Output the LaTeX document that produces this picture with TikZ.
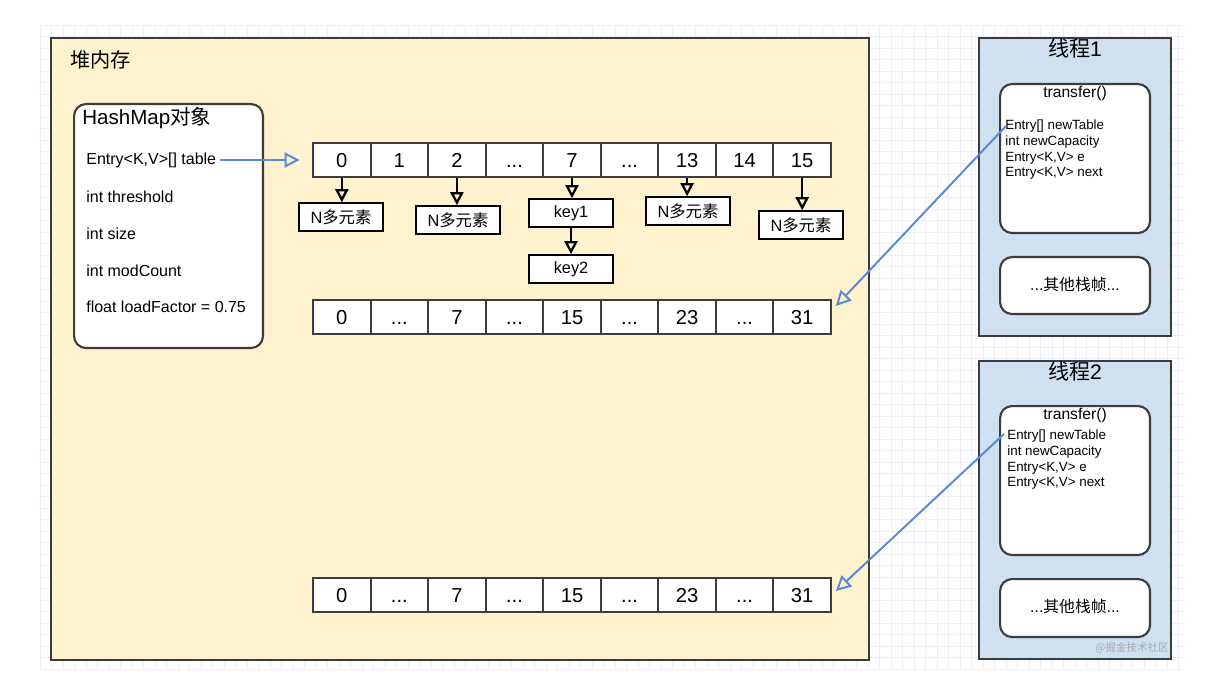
\documentclass[tikz,border=0pt]{standalone}
\usepackage{fontspec}
\setmainfont{Liberation Sans}
\newfontfamily\cjk{Noto Sans CJK SC}
\usepackage{xcolor}
\usetikzlibrary{arrows.meta, positioning, calc}

\definecolor{heapfill}{RGB}{255,242,206}
\definecolor{thrfill}{RGB}{207,224,241}
\definecolor{edge}{RGB}{60,60,60}
\definecolor{linkblue}{RGB}{86,137,218}
\definecolor{gridc}{RGB}{238,238,250}
\newcommand{\dts}{...}

\begin{document}
\begin{tikzpicture}[
  x=0.02cm, y=-0.02cm,
  region/.style={draw=edge, line width=1.2pt, anchor=north west, inner sep=0},
  obj/.style={draw=edge, fill=white, line width=1.2pt, rounded corners=0.24cm, anchor=north west, inner sep=0},
  cell/.style={draw=edge, fill=white, line width=1.1pt, minimum width=1.15cm, minimum height=0.68cm, inner sep=0, text height=8.3pt, text depth=0pt, font=\fontsize{11.5}{13}\selectfont},
  elem/.style={draw=black, fill=white, line width=0.9pt, minimum width=1.68cm, minimum height=0.56cm, inner sep=0, font=\fontsize{9.3}{11}\selectfont},
  heading/.style={inner sep=0, font=\fontsize{11.5}{13}\selectfont},
  field/.style={anchor=west, inner sep=0, font=\fontsize{9.1}{11}\selectfont},
  vars/.style={anchor=north west, inner sep=0, align=left, font=\fontsize{7.6}{9.1}\selectfont},
  arrow/.style={-{Triangle[open, length=2.6mm, width=2.6mm]}, line width=1.3pt},
  link/.style={-{Triangle[open, length=3mm, width=3mm]}, draw=linkblue, line width=1.1pt},
]
\useasboundingbox (0,0) rectangle (1220,692);

% background grid
\foreach \gx in {40,51.5,...,1186}
  \draw[gridc, line width=0.4pt] (\gx,25) -- (\gx,670);
\foreach \gy in {25,36.5,...,671}
  \draw[gridc, line width=0.4pt] (40,\gy) -- (1186,\gy);

% heap
\node[region, fill=heapfill, minimum width=16.36cm, minimum height=12.44cm] (heap) at (50,37) {};
\node[heading, anchor=west] (heaplbl) at (70,60) {\cjk 堆内存};

% HashMap object
\node[obj, minimum width=3.78cm, minimum height=4.88cm] (hm) at (73,103) {};
\node[heading, anchor=west, font=\fontsize{11.7}{13}\selectfont] (hmlbl) at (82,118) {HashMap{\cjk 对象}};
\node[field] (f1) at (86,160) {Entry<K,V>[] table};
\node[field] (f2) at (86,197) {int threshold};
\node[field] (f3) at (86,234) {int size};
\node[field] (f4) at (86,271) {int modCount};
\node[field] (f5) at (86,307) {float loadFactor = 0.75};

% arrays
\foreach \lbl [count=\i from 0] in {0,1,2,\dts,7,\dts,13,14,15}
  \node[cell] (a\i) at ({341.8+57.55*\i},160) {\lbl};
\foreach \lbl [count=\i from 0] in {0,\dts,7,\dts,15,\dts,23,\dts,31}
  \node[cell] (b\i) at ({341.8+57.55*\i},317) {\lbl};
\foreach \lbl [count=\i from 0] in {0,\dts,7,\dts,15,\dts,23,\dts,31}
  \node[cell] (c\i) at ({341.8+57.55*\i},595) {\lbl};

% buckets
\node[elem] (n0) at (341,217) {N{\cjk 多元素}};
\node[elem] (n2) at (458,220) {N{\cjk 多元素}};
\node[elem] (k1) at (571,213) {key1};
\node[elem] (k2) at (571,269) {key2};
\node[elem] (n13) at (688,211) {N{\cjk 多元素}};
\node[elem] (n15) at (801,225) {N{\cjk 多元素}};

\draw[arrow] (a0.south) -- (a0.south |- n0.north);
\draw[arrow] (a2.south) -- (a2.south |- n2.north);
\draw[arrow] (a4.south) -- (a4.south |- k1.north);
\draw[arrow] (k1) -- (k2);
\draw[arrow] (a6.south) -- (a6.south |- n13.north);
\draw[arrow] (a8.south) -- (a8.south |- n15.north);

\draw[link] ([xshift=2pt]f1.east) -- ([xshift=-0.25cm]a0.west);

% thread 1
\node[region, fill=thrfill, minimum width=3.84cm, minimum height=5.96cm] (t1) at (978,37) {};
\node[heading, font=\fontsize{12}{13}\selectfont] (t1lbl) at (1075,48) {{\cjk 线程}1};
\node[obj, minimum width=3.0cm, minimum height=2.98cm] (tr1) at (999,83) {};
\node[heading, font=\fontsize{8.9}{10}\selectfont] (tr1lbl) at (1075,93) {transfer()};
\node[vars] (v1) at (1005,119) {Entry[] newTable\\int newCapacity\\Entry<K,V> e\\Entry<K,V> next};
\node[obj, minimum width=3.0cm, minimum height=1.14cm] (o1) at (999,256) {};
\node[heading, font=\fontsize{9}{10}\selectfont] (o1lbl) at (1075,285) {\dts{\cjk 其他栈帧}\dts};

% thread 2
\node[region, fill=thrfill, minimum width=3.84cm, minimum height=5.96cm] (t2) at (978,360) {};
\node[heading, font=\fontsize{12}{13}\selectfont] (t2lbl) at (1075,371) {{\cjk 线程}2};
\node[obj, minimum width=3.0cm, minimum height=2.98cm] (tr2) at (999,405) {};
\node[heading, font=\fontsize{8.9}{10}\selectfont] (tr2lbl) at (1075,415) {transfer()};
\node[vars] (v2) at (1007,429) {Entry[] newTable\\int newCapacity\\Entry<K,V> e\\Entry<K,V> next};
\node[obj, minimum width=3.0cm, minimum height=1.16cm] (o2) at (999,578) {};
\node[heading, font=\fontsize{9}{10}\selectfont] (o2lbl) at (1075,607) {\dts{\cjk 其他栈帧}\dts};

\draw[link] ([shift={(0.02cm,-0.14cm)}]v1.north west) -- ([shift={(0.08cm,0.22cm)}]b8.east);
\draw[link] ([shift={(-0.06cm,-0.1cm)}]v2.north west) -- ([shift={(0.08cm,0.08cm)}]c8.east);

\node[inner sep=0, text=black!35, font=\fontsize{6}{7}\selectfont] (wm) at (1132,648) {\cjk @掘金技术社区};
\end{tikzpicture}
\end{document}
